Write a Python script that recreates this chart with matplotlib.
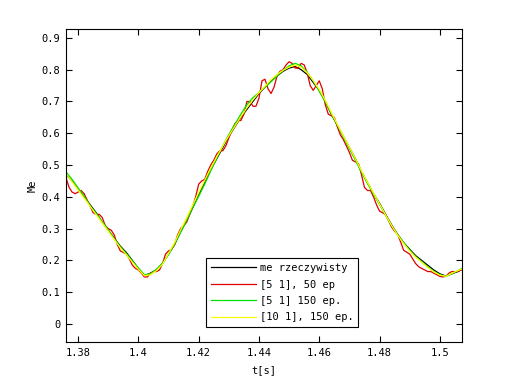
import numpy as np
import matplotlib
matplotlib.use("Agg")
import matplotlib.pyplot as plt

# time grid (2 ms) for smooth series
t = [1.376, 1.378, 1.380, 1.382, 1.384, 1.386, 1.388, 1.390, 1.392, 1.394,
     1.396, 1.398, 1.400, 1.402, 1.404, 1.406, 1.408, 1.410, 1.412, 1.414,
     1.416, 1.418, 1.420, 1.422, 1.424, 1.426, 1.428, 1.430, 1.432, 1.434,
     1.436, 1.438, 1.440, 1.442, 1.444, 1.446, 1.448, 1.450, 1.452, 1.454,
     1.456, 1.458, 1.460, 1.462, 1.464, 1.466, 1.468, 1.470, 1.472, 1.474,
     1.476, 1.478, 1.480, 1.482, 1.484, 1.486, 1.488, 1.490, 1.492, 1.494,
     1.496, 1.498, 1.500, 1.502, 1.504, 1.506, 1.508]

me_real = [0.470, 0.450, 0.425, 0.400, 0.375, 0.350, 0.320, 0.295, 0.270, 0.245,
           0.225, 0.200, 0.175, 0.152, 0.160, 0.170, 0.190, 0.220, 0.250, 0.290,
           0.325, 0.365, 0.405, 0.445, 0.485, 0.520, 0.555, 0.590, 0.620, 0.650,
           0.675, 0.700, 0.725, 0.745, 0.765, 0.780, 0.795, 0.805, 0.810, 0.800,
           0.785, 0.760, 0.735, 0.700, 0.660, 0.625, 0.590, 0.555, 0.520, 0.480,
           0.445, 0.410, 0.380, 0.345, 0.312, 0.282, 0.256, 0.235, 0.215, 0.200,
           0.185, 0.170, 0.158, 0.151, 0.158, 0.165, 0.175]

me_5_150 = [0.478, 0.455, 0.428, 0.402, 0.372, 0.348, 0.322, 0.296, 0.268, 0.243,
            0.222, 0.198, 0.176, 0.155, 0.158, 0.172, 0.192, 0.218, 0.252, 0.288,
            0.326, 0.366, 0.402, 0.440, 0.482, 0.522, 0.560, 0.596, 0.628, 0.660,
            0.690, 0.712, 0.728, 0.745, 0.762, 0.780, 0.798, 0.812, 0.820, 0.812,
            0.792, 0.765, 0.732, 0.700, 0.662, 0.626, 0.588, 0.552, 0.515, 0.478,
            0.442, 0.408, 0.376, 0.342, 0.310, 0.281, 0.256, 0.232, 0.212, 0.196,
            0.180, 0.166, 0.155, 0.150, 0.158, 0.168, 0.178]

me_10_150 = [0.472, 0.448, 0.422, 0.396, 0.370, 0.344, 0.318, 0.292, 0.266, 0.240,
             0.218, 0.195, 0.172, 0.152, 0.155, 0.168, 0.188, 0.222, 0.256, 0.296,
             0.334, 0.374, 0.414, 0.452, 0.490, 0.526, 0.560, 0.592, 0.622, 0.652,
             0.680, 0.705, 0.728, 0.748, 0.768, 0.785, 0.798, 0.808, 0.815, 0.808,
             0.790, 0.766, 0.738, 0.704, 0.665, 0.628, 0.592, 0.556, 0.520, 0.482,
             0.446, 0.412, 0.378, 0.343, 0.310, 0.280, 0.253, 0.230, 0.210, 0.194,
             0.178, 0.164, 0.154, 0.150, 0.160, 0.168, 0.176]

# red series sampled every 1 ms (wobbly)
t_red = [round(1.376 + 0.001 * i, 3) for i in range(133)]
me_5_50 = [0.460, 0.430, 0.415, 0.410, 0.415, 0.420, 0.410, 0.390, 0.370, 0.350,
           0.345, 0.345, 0.335, 0.310, 0.300, 0.295, 0.280, 0.250, 0.230, 0.225,
           0.220, 0.205, 0.185, 0.175, 0.170, 0.160, 0.148, 0.148, 0.160, 0.165,
           0.165, 0.170, 0.190, 0.220, 0.230, 0.235, 0.250, 0.280, 0.300, 0.310,
           0.320, 0.345, 0.370, 0.400, 0.440, 0.450, 0.455, 0.480, 0.500, 0.515,
           0.535, 0.545, 0.545, 0.560, 0.585, 0.610, 0.630, 0.640, 0.640, 0.660,
           0.700, 0.700, 0.685, 0.685, 0.710, 0.765, 0.770, 0.740, 0.725, 0.745,
           0.780, 0.795, 0.800, 0.815, 0.825, 0.820, 0.805, 0.805, 0.820, 0.815,
           0.790, 0.750, 0.735, 0.750, 0.765, 0.740, 0.690, 0.660, 0.655, 0.650,
           0.620, 0.595, 0.580, 0.560, 0.540, 0.515, 0.510, 0.505, 0.470, 0.430,
           0.420, 0.420, 0.400, 0.375, 0.355, 0.350, 0.345, 0.325, 0.305, 0.292,
           0.282, 0.258, 0.232, 0.226, 0.220, 0.205, 0.190, 0.180, 0.175, 0.170,
           0.165, 0.165, 0.160, 0.155, 0.150, 0.148, 0.150, 0.160, 0.165, 0.165,
           0.165, 0.170, 0.175]

labels = ['me rzeczywisty', '[5 1], 50 ep', '[5 1] 150 ep.', '[10 1], 150 ep.']

plt.rcParams['font.family'] = 'DejaVu Sans Mono'
fig = plt.figure(figsize=(5.12, 3.84), dpi=100)
ax = fig.add_axes([0.129, 0.109, 0.773, 0.8155])

ax.plot(t, me_real, color='black', lw=0.9, label=labels[0])
ax.plot(t_red, me_5_50, color='#e00000', lw=0.9, label=labels[1])
ax.plot(t, me_5_150, color='#00e000', lw=0.9, label=labels[2])
ax.plot(t, me_10_150, color='#ffff00', lw=0.9, label=labels[3])

ax.set_xlim(1.376, 1.5073)
ax.set_ylim(-0.057, 0.928)
ax.set_xticks([1.38, 1.40, 1.42, 1.44, 1.46, 1.48, 1.50])
ax.set_xticklabels(['1.38', '1.4', '1.42', '1.44', '1.46', '1.48', '1.5'])
ax.set_yticks(np.arange(0, 0.95, 0.1))
ax.set_yticklabels(['0', '0.1', '0.2', '0.3', '0.4', '0.5', '0.6', '0.7', '0.8', '0.9'])
ax.tick_params(direction='in', length=4, width=0.8, labelsize=7.5,
               top=True, right=True, pad=4)
for s in ax.spines.values():
    s.set_linewidth(0.8)
ax.set_xlabel('t[s]', fontsize=7.5, labelpad=5)
ax.set_ylabel('Me', fontsize=7.5, labelpad=3)

leg = ax.legend(loc='lower left', bbox_to_anchor=(0.354, 0.048), fontsize=7.5,
                fancybox=False, framealpha=1, edgecolor='black',
                handlelength=4.3, handletextpad=0.4, borderpad=0.45,
                labelspacing=0.62, borderaxespad=0)
leg.get_frame().set_linewidth(0.8)

fig.savefig('out.png', dpi=100)
